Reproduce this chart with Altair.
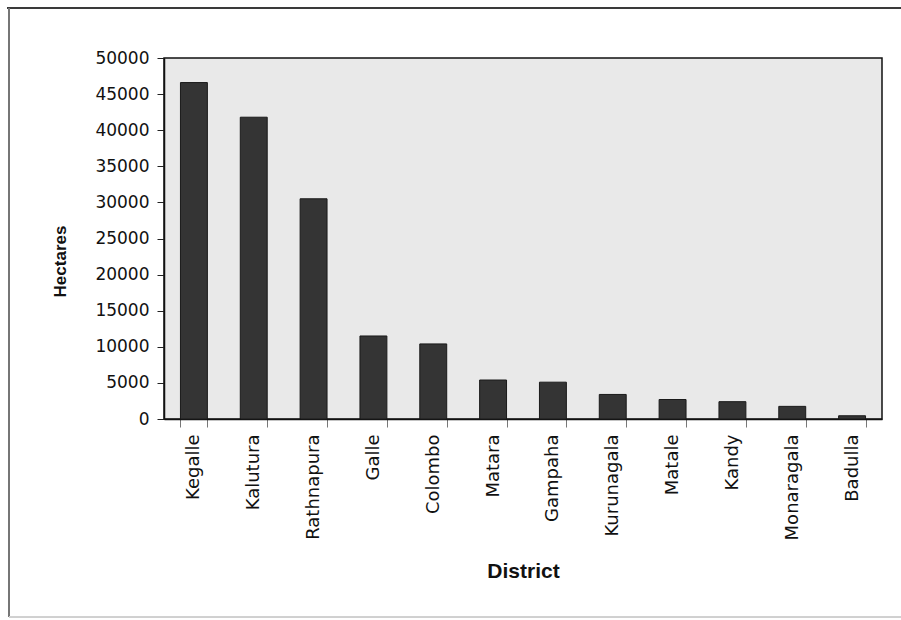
import altair as alt
import pandas as pd

# Rubber-growing area by district (hectares)
districts = ["Kegalle", "Kalutura", "Rathnapura", "Galle", "Colombo", "Matara",
             "Gampaha", "Kurunagala", "Matale", "Kandy", "Monaragala", "Badulla"]
hectares = [46600, 41800, 30500, 11500, 10400, 5400,
            5100, 3400, 2700, 2400, 1750, 450]
y_ticks = [0, 5000, 10000, 15000, 20000, 25000, 30000, 35000, 40000, 45000, 50000]

df = pd.DataFrame({"District": districts, "Hectares": hectares})

W, H = 718, 361
PAD_L, PAD_T = 164, 58

bars = alt.Chart(df).mark_bar(color="#343434", stroke="#1a1a1a", strokeWidth=1).encode(
    x=alt.X(
        "District:N",
        sort=districts,
        scale=alt.Scale(paddingInner=0.55, paddingOuter=0.275),
        axis=alt.Axis(
            title="District",
            labelAngle=-90,
            labelFont="DejaVu Sans",
            labelFontSize=18,
            labelColor="#111111",
            labelPadding=7,
            tickBand="extent",
            tickSize=8,
            tickColor="#777777",
            domainColor="#111111",
            domainWidth=1.5,
            titleFont="Liberation Sans",
            titleFontSize=21,
            titleFontWeight="bold",
            titleColor="#111111",
            titleY=158,
            titleBaseline="alphabetic",
        ),
    ),
    y=alt.Y(
        "Hectares:Q",
        scale=alt.Scale(domain=[0, 50000], nice=False),
        axis=alt.Axis(
            title="Hectares",
            values=y_ticks,
            format="d",
            grid=False,
            labelFont="DejaVu Sans",
            labelFontSize=17,
            labelColor="#111111",
            labelPadding=8,
            tickSize=7,
            tickColor="#222222",
            domainColor="#111111",
            domainWidth=1.5,
            titleFont="Liberation Sans",
            titleFontSize=17,
            titleFontWeight="bold",
            titleColor="#111111",
            titleX=-104,
            titleY=203,
            titleAngle=-90,
            titleBaseline="middle",
        ),
    ),
)

# Outer frame around the whole figure
frame_top = alt.Chart(df).mark_rule(color="#3a3a3a", strokeWidth=2).encode(
    x=alt.value(-PAD_L + 7), x2=alt.value(901 - PAD_L), y=alt.value(8 - PAD_T)
)
frame_left = alt.Chart(df).mark_rule(color="#777777", strokeWidth=1).encode(
    x=alt.value(9 - PAD_L), y=alt.value(8 - PAD_T), y2=alt.value(617 - PAD_T)
)
frame_bottom = alt.Chart(df).mark_rule(color="#d0d0d0", strokeWidth=1).encode(
    x=alt.value(9 - PAD_L), x2=alt.value(901 - PAD_L), y=alt.value(617 - PAD_T)
)

chart = alt.layer(frame_top, frame_left, frame_bottom, bars).properties(
    width=W,
    height=H,
    autosize=alt.AutoSizeParams(type="none"),
    padding={"left": PAD_L, "top": PAD_T, "right": 901 - PAD_L - W, "bottom": 620 - PAD_T - H},
    background="white",
).configure_view(
    fill="#e9e9e9",
    stroke="#111111",
    strokeWidth=1.5,
)

chart.save("out.html", embed_options={"renderer": "svg", "actions": False})
